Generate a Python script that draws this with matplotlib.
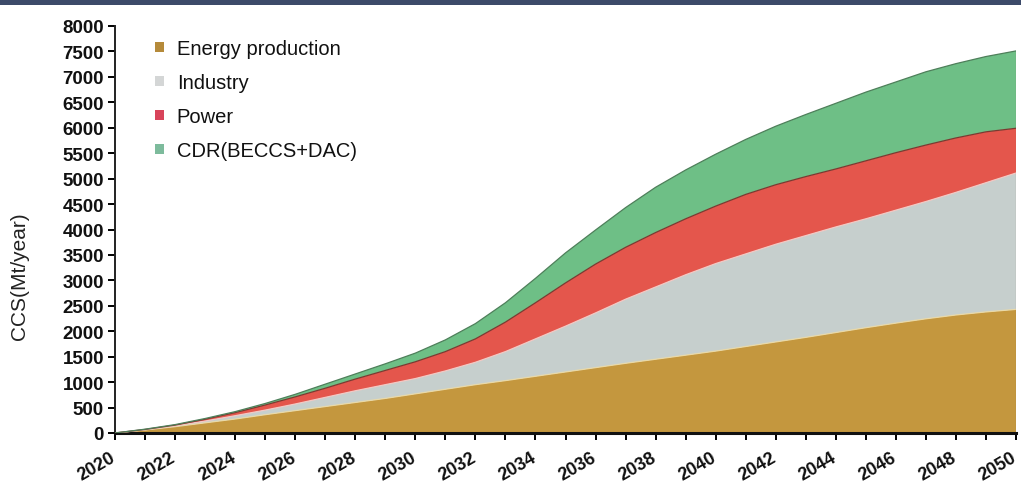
import numpy as np
import matplotlib
matplotlib.use("Agg")
import matplotlib.pyplot as plt
import matplotlib.transforms as mtransforms
from matplotlib.patches import Patch, Rectangle

# Projected CCS deployment by sector (Mt/year)
years = list(range(2020, 2051))
energy_production = [0, 60, 125, 200, 275, 360, 440, 520, 600, 680,
                     770, 860, 950, 1030, 1115, 1200, 1285, 1370, 1450, 1530,
                     1610, 1700, 1790, 1880, 1975, 2070, 2160, 2245, 2320, 2380,
                     2430]
industry = [0, 5, 15, 35, 65, 90, 130, 180, 230, 270,
            300, 360, 440, 570, 735, 900, 1075, 1260, 1420, 1580,
            1720, 1820, 1920, 2000, 2075, 2140, 2220, 2305, 2410, 2540,
            2680]
power = [0, 5, 15, 35, 60, 100, 140, 180, 230, 280,
         330, 380, 460, 580, 710, 850, 960, 1020, 1070, 1100,
         1130, 1170, 1170, 1160, 1140, 1140, 1130, 1110, 1070, 1000,
         880]
cdr = [0, 5, 10, 15, 20, 30, 50, 80, 100, 130,
       170, 230, 300, 380, 480, 590, 670, 780, 890, 960,
       1020, 1080, 1150, 1220, 1290, 1350, 1390, 1440, 1460, 1480,
       1520]

series_labels = ["Energy production", "Industry", "Power", "CDR(BECCS+DAC)"]
y_ticks = list(range(0, 8001, 500))
x_ticks = list(range(2020, 2051))
x_labels = [str(y) if y % 2 == 0 else "" for y in x_ticks]

fill_colors = ["#C4973E", "#C6CFCD", "#E4564C", "#6EBF86"]
edge_colors = ["#E9D9A8", "#F2C9C4", "#7A3A30", "#4E7F5A"]
legend_colors = ["#B58A3A", "#D4D6D6", "#D8445A", "#7DBB9C"]

W, H = 1021, 489
fig = plt.figure(figsize=(W / 100, H / 100), dpi=100)
fig.patch.set_facecolor("white")

# banner strip along the top edge
fig.patches.append(Rectangle((0, 1 - 6 / H), 1, 6 / H, transform=fig.transFigure,
                             facecolor="#3C4A69", edgecolor="none", zorder=0))

ax = fig.add_axes([115 / W, (H - 434) / H, (1016 - 115) / W, (434 - 27) / H])

x = np.array(years, dtype=float)
layers = [np.array(s, dtype=float) for s in (energy_production, industry, power, cdr)]
base = np.zeros_like(x)
for vals, fc, ec in zip(layers, fill_colors, edge_colors):
    top = base + vals
    ax.fill_between(x, base, top, facecolor=fc, edgecolor="none", zorder=2)
    ax.plot(x, top, color=ec, lw=0.9, zorder=3)
    base = top
ax.vlines(x[-1], 0, base[-1], color="#8a6a50", lw=0.8, zorder=3)

ax.set_xlim(2020, 2050)
ax.set_ylim(0, 8000)
ax.tick_params(axis="y", direction="out", length=5, width=1.4, pad=3)
ax.tick_params(axis="x", direction="out", length=5, width=1.4, pad=6)
ax.set_yticks(y_ticks)
ax.set_yticklabels([str(v) for v in y_ticks], fontfamily="Liberation Sans",
                   fontweight="bold", fontsize=13.5, color="#111111")
ax.set_xticks(x_ticks)
ax.set_xticklabels(x_labels, rotation=30, ha="right", va="top",
                   rotation_mode="anchor", fontfamily="Liberation Sans",
                   fontweight="bold", fontsize=13, color="#111111")
# nudge the slanted year labels a little to the left of their ticks
shift = mtransforms.ScaledTranslation(-5 / 100, 0, fig.dpi_scale_trans)
for lbl in ax.get_xticklabels():
    lbl.set_transform(lbl.get_transform() + shift)

for side in ("top", "right"):
    ax.spines[side].set_visible(False)
ax.spines["left"].set_linewidth(1.4)
ax.spines["bottom"].set_linewidth(2.2)
ax.spines["left"].set_color("#222222")
ax.spines["bottom"].set_color("#111111")
ax.set_facecolor("white")

fig.text(20 / W, 1 - 276 / H, "CCS(Mt/year)", rotation=90, ha="center", va="center",
         fontfamily="Liberation Sans", fontsize=15, color="#222222")

handles = [Patch(facecolor=c, edgecolor="none") for c in legend_colors]
leg = fig.legend(handles, series_labels, loc="upper left",
                 bbox_to_anchor=(137 / W, 1 - 22 / H), frameon=False,
                 handlelength=0.42, handleheight=0.42, handletextpad=0.65,
                 labelspacing=0.75, prop={"family": "Liberation Sans", "size": 14.5})
for t in leg.get_texts():
    t.set_color("#111111")

fig.savefig("out.png", dpi=100)
